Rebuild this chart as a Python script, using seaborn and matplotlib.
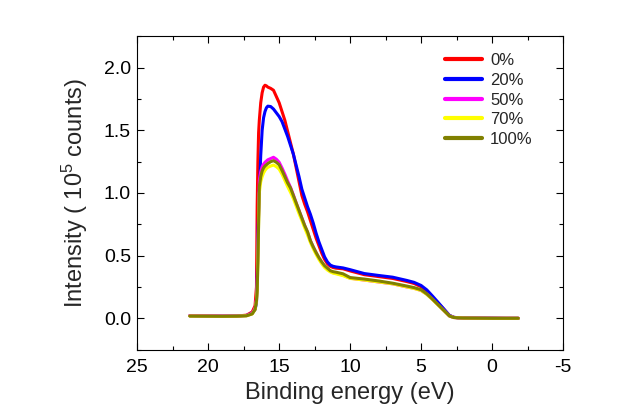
import matplotlib
matplotlib.use("Agg")
import matplotlib.pyplot as plt
from matplotlib.ticker import MultipleLocator, FormatStrFormatter
import pandas as pd
import seaborn as sns

# binding energy grid (eV), shared by all spectra
energy = [21.3, 20.0, 19.0, 18.0, 17.3, 16.9, 16.7, 16.6, 16.55, 16.5, 16.45, 16.4,
          16.3, 16.2, 16.1, 16.0, 15.9, 15.8, 15.6, 15.4, 15.2, 15.0, 14.8, 14.6,
          14.4, 14.2, 14.0, 13.8, 13.6, 13.4, 13.2, 13.0, 12.8, 12.6, 12.4, 12.2,
          12.0, 11.8, 11.6, 11.4, 11.2, 11.0, 10.5, 10.0, 9.0, 8.0, 7.0, 6.0,
          5.5, 5.0, 4.6, 4.2, 3.8, 3.4, 3.0, 2.7, 2.4, 2.0, 1.0, 0.0, -1.0, -1.85]

# intensities in units of 1e5 counts
i_0 = [0.020, 0.018, 0.017, 0.018, 0.025, 0.05, 0.10, 0.25, 0.90, 1.25, 1.48, 1.58,
       1.72, 1.80, 1.845, 1.86, 1.855, 1.845, 1.835, 1.82, 1.77, 1.72, 1.65, 1.58,
       1.49, 1.40, 1.31, 1.20, 1.09, 0.98, 0.91, 0.85, 0.78, 0.71, 0.64, 0.58,
       0.52, 0.47, 0.435, 0.415, 0.405, 0.40, 0.395, 0.378, 0.348, 0.333, 0.318, 0.293,
       0.278, 0.252, 0.217, 0.168, 0.12, 0.072, 0.022, 0.008, 0.004, 0.003, 0.002, 0.001, 0.0, 0.0]
i_20 = [0.020, 0.018, 0.017, 0.018, 0.022, 0.04, 0.07, 0.12, 0.30, 0.60, 0.85, 1.00,
        1.30, 1.50, 1.60, 1.65, 1.68, 1.693, 1.69, 1.67, 1.64, 1.61, 1.57, 1.51,
        1.45, 1.38, 1.31, 1.22, 1.13, 1.03, 0.96, 0.89, 0.83, 0.76, 0.68, 0.61,
        0.55, 0.49, 0.45, 0.425, 0.415, 0.41, 0.402, 0.388, 0.357, 0.342, 0.328, 0.302,
        0.287, 0.262, 0.227, 0.178, 0.127, 0.075, 0.023, 0.008, 0.004, 0.003, 0.002, 0.001, 0.0, 0.0]
i_50 = [0.022, 0.020, 0.018, 0.018, 0.022, 0.04, 0.08, 0.16, 0.28, 0.55, 0.85, 1.10,
        1.17, 1.21, 1.23, 1.245, 1.255, 1.265, 1.275, 1.285, 1.27, 1.245, 1.20, 1.15,
        1.095, 1.045, 0.985, 0.92, 0.86, 0.80, 0.74, 0.685, 0.62, 0.57, 0.525, 0.48,
        0.445, 0.415, 0.395, 0.375, 0.365, 0.36, 0.345, 0.32, 0.305, 0.29, 0.275, 0.25,
        0.24, 0.222, 0.193, 0.152, 0.107, 0.063, 0.018, 0.006, 0.004, 0.002, 0.001, 0.0, 0.0, 0.0]
i_70 = [0.018, 0.017, 0.016, 0.017, 0.02, 0.035, 0.07, 0.14, 0.22, 0.45, 0.75, 1.00,
        1.09, 1.13, 1.16, 1.18, 1.195, 1.205, 1.215, 1.223, 1.21, 1.19, 1.15, 1.10,
        1.05, 1.005, 0.955, 0.895, 0.835, 0.78, 0.72, 0.665, 0.605, 0.555, 0.51, 0.47,
        0.435, 0.405, 0.385, 0.37, 0.36, 0.355, 0.34, 0.318, 0.305, 0.29, 0.275, 0.25,
        0.238, 0.222, 0.19, 0.15, 0.105, 0.062, 0.018, 0.006, 0.004, 0.002, 0.001, 0.0, 0.0, 0.0]
i_100 = [0.018, 0.017, 0.016, 0.017, 0.02, 0.035, 0.07, 0.14, 0.22, 0.45, 0.75, 1.05,
         1.13, 1.175, 1.20, 1.215, 1.225, 1.235, 1.25, 1.258, 1.245, 1.225, 1.18, 1.13,
         1.08, 1.04, 0.98, 0.92, 0.86, 0.80, 0.74, 0.69, 0.62, 0.57, 0.525, 0.485,
         0.45, 0.42, 0.40, 0.38, 0.372, 0.368, 0.355, 0.325, 0.313, 0.298, 0.28, 0.257,
         0.245, 0.228, 0.195, 0.153, 0.108, 0.063, 0.018, 0.006, 0.004, 0.002, 0.001, 0.0, 0.0, 0.0]

labels = ["0%", "20%", "50%", "70%", "100%"]
colors = ["#FF0000", "#0000FF", "#FF00FF", "#FFFF00", "#808000"]

frames = []
for lab, vals in zip(labels, [i_0, i_20, i_50, i_70, i_100]):
    frames.append(pd.DataFrame({"energy": energy, "intensity": vals, "sample": lab}))
df = pd.concat(frames, ignore_index=True)

sns.set_style("ticks")
plt.rcParams["font.family"] = ["Liberation Sans", "DejaVu Sans"]
plt.rcParams["mathtext.fontset"] = "custom"
plt.rcParams["mathtext.rm"] = "Liberation Sans"
plt.rcParams["mathtext.it"] = "Liberation Sans"
plt.rcParams["axes.unicode_minus"] = False

fig = plt.figure(figsize=(6.32, 4.2), dpi=100)
ax = fig.add_axes([0.2172, 0.1667, 0.6736, 0.7476])

sns.lineplot(data=df, x="energy", y="intensity", hue="sample", hue_order=labels,
             palette=colors, estimator=None, sort=False, linewidth=2.2, ax=ax)

ax.set_xlim(25, -5)
ax.set_ylim(-0.253, 2.253)
ax.xaxis.set_major_locator(MultipleLocator(5))
ax.xaxis.set_minor_locator(MultipleLocator(2.5))
ax.yaxis.set_major_locator(MultipleLocator(0.5))
ax.yaxis.set_minor_locator(MultipleLocator(0.25))
ax.yaxis.set_major_formatter(FormatStrFormatter("%.1f"))

ax.tick_params(which="both", direction="in", top=True, right=True, width=0.8, colors="black")
ax.tick_params(which="major", length=5)
ax.tick_params(which="minor", length=3)
ax.tick_params(axis="x", which="major", labelsize=14, pad=6.5)
ax.tick_params(axis="y", which="major", labelsize=14, pad=4.5)
for sp in ax.spines.values():
    sp.set_visible(True)
    sp.set_linewidth(0.8)
    sp.set_color("black")

ax.set_xlabel("Binding energy (eV)", fontsize=17, labelpad=4)
ax.set_ylabel("Intensity ( 10$^5$ counts)", fontsize=17, labelpad=10)

leg = ax.legend(loc="upper left", bbox_to_anchor=(0.7228, 0.945), frameon=False,
                fontsize=12, handlelength=2.2, handletextpad=0.5, labelspacing=0.28,
                borderpad=0, borderaxespad=0)
for h in leg.get_lines():
    h.set_linewidth(3.0)

fig.savefig("out.png", dpi=100)
